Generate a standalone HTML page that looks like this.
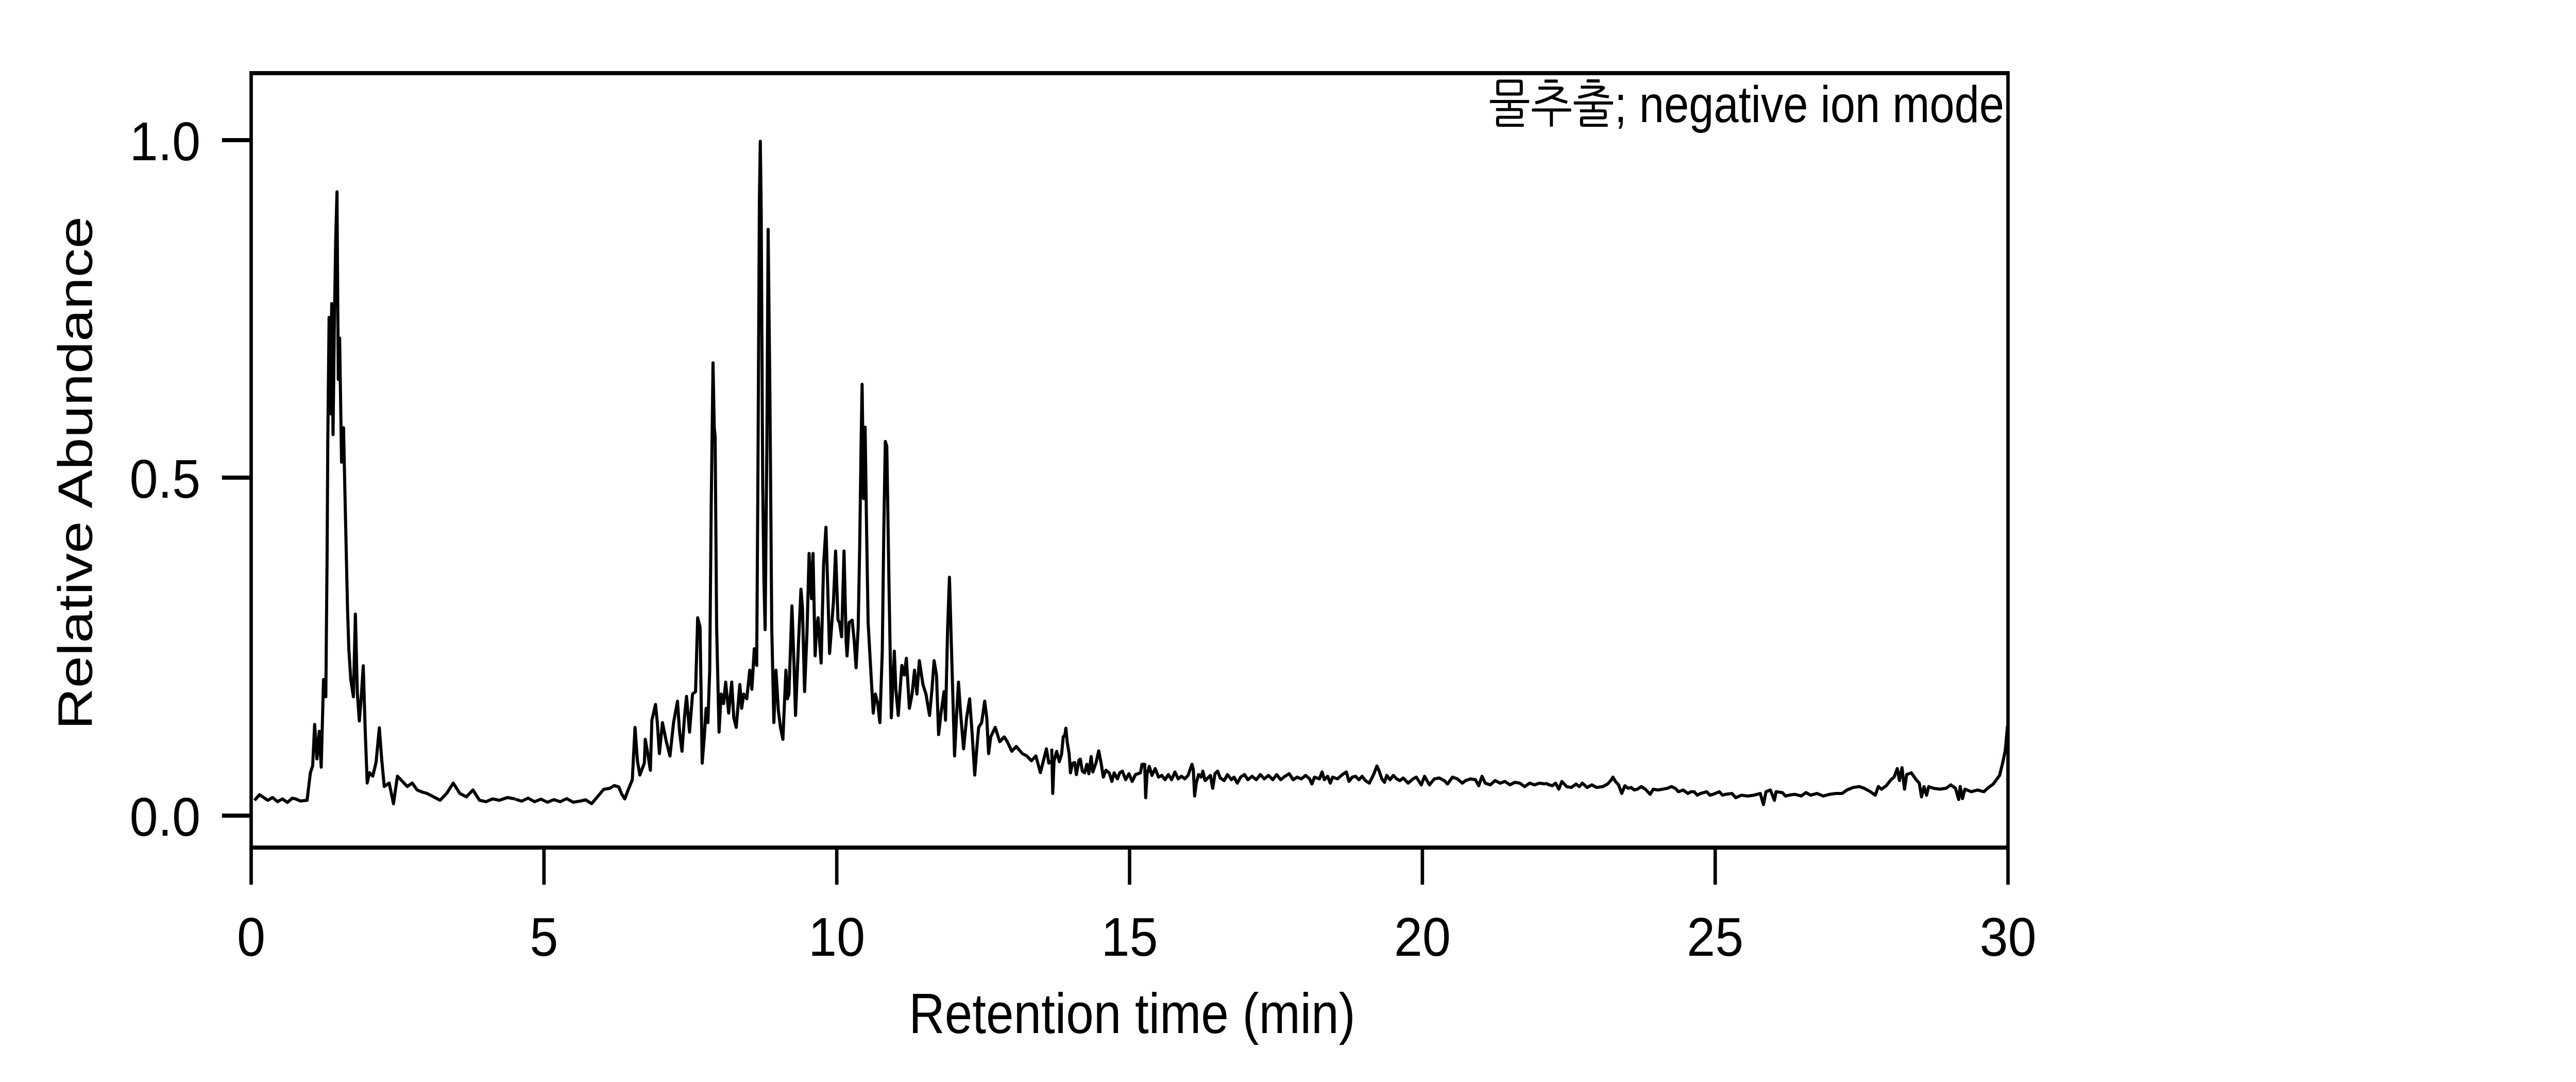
<!DOCTYPE html>
<html><head><meta charset="utf-8"><style>html,body{margin:0;padding:0;background:#fff;width:100%;height:100%;overflow:hidden}svg{display:block;width:100vw;height:100vh}</style></head>
<body>
<svg viewBox="0 0 6000 2100" preserveAspectRatio="none" xmlns="http://www.w3.org/2000/svg">
<defs><clipPath id="c"><rect x="585" y="142" width="4092" height="1503"/></clipPath></defs>
<rect width="6000" height="2100" fill="#fff"/>
<g fill="none" stroke="#000" stroke-width="6" stroke-linejoin="round" clip-path="url(#c)">
<polyline vector-effect="non-scaling-stroke" transform="scale(0.765,1.339)" points="775,1160 790,1152 800,1155 815,1160 830,1156 845,1162 860,1158 875,1163 890,1157 900,1158 915,1161 935,1160 945,1120 952,1110 958,1050 965,1100 972,1060 978,1112 985,985 992,1010 996,800 998,640 1002,460 1006,600 1010,440 1014,630 1018,470 1022,350 1026,278 1030,550 1034,490 1040,670 1046,620 1050,710 1058,880 1062,940 1068,985 1076,1010 1082,890 1088,1005 1094,1045 1100,1010 1106,965 1112,1060 1118,1135 1125,1120 1135,1125 1145,1105 1155,1055 1162,1100 1170,1140 1185,1135 1198,1165 1210,1125 1220,1130 1240,1140 1255,1135 1270,1145 1285,1148 1300,1150 1320,1155 1340,1160 1360,1150 1380,1135 1400,1150 1420,1155 1440,1145 1460,1160 1480,1162 1500,1158 1520,1160 1545,1156 1568,1158"/>
<polyline points="1200,1551 1215,1555 1230,1549 1245,1556 1260,1551 1275,1557 1290,1552 1305,1556 1320,1550 1335,1557 1350,1555"/>
<polyline vector-effect="non-scaling-stroke" transform="translate(1350,200) scale(0.7015,0.925)" points="0,1465 20,1462 40,1470 60,1455 80,1440 100,1438 115,1432 130,1435 140,1450 150,1460 162,1440 175,1420 184,1310 192,1380 200,1410 215,1385 218,1335 225,1360 235,1400 240,1295 252,1262 258,1300 265,1365 275,1300 288,1340 300,1370 312,1300 325,1255 332,1320 340,1360 348,1290 355,1245 365,1320 375,1240 385,1235 392,1080 400,1100 407,1385 414,1330 420,1270 426,1300 432,1190 437,845 443,545 447,680 450,700 455,1100 463,1320 470,1240 478,1260 485,1215 495,1280 505,1215 512,1290 520,1310 532,1220 538,1270 545,1240 555,1250 565,1190 572,1230 580,1145 588,1180 592,790 597,200 600,80 603,230 608,800 612,1000 616,1105 622,700 626,265 632,620 638,1100 645,1300 652,1190 660,1275 667,1310 675,1335 685,1190 690,1250 695,1240 705,1055 712,1180 717,1285 727,1130 735,1020 740,1060 747,1235 755,1110 762,945 770,1040 775,945 782,1160 787,1100 792,1080 797,1130 802,1175 810,970 818,890 824,1020 830,1155 843,1045 850,940 858,1085 863,1090 870,1120 878,940 885,1130 888,1160 895,1090 905,1085 912,1130 918,1185 925,1100 930,930 935,700 938,590 943,830 948,680 953,900 958,1090 965,1170 975,1280 982,1240 990,1260 997,1300 1005,1150 1010,900 1015,710 1020,720 1027,1000 1035,1290 1045,1150 1050,1230 1058,1285 1070,1180 1078,1200 1085,1165 1095,1270 1104,1240 1112,1190 1120,1240 1128,1170 1140,1220 1150,1240 1162,1285 1170,1230 1177,1170 1185,1200 1192,1325 1200,1280 1210,1235 1215,1295 1222,1100 1228,995 1235,1150 1245,1370 1252,1280 1258,1215 1265,1280 1275,1355 1285,1290 1295,1250 1303,1320 1312,1410 1318,1360 1325,1310 1335,1300 1345,1255 1352,1290 1358,1365 1365,1330 1380,1310 1395,1340 1410,1330 1420,1340 1435,1360 1450,1350 1470,1365 1485,1370 1500,1380 1515,1370 1530,1405 1540,1380 1550,1355 1558,1385 1568,1380"/>
<polyline vector-effect="non-scaling-stroke" transform="translate(2400,1380) scale(0.765,0.3333)" points="65,220 68,480 72,290 80,235 88,295 95,250 100,150 105,140 108,100 112,180 118,250 122,360 128,305 135,300 140,370 148,285 152,280 158,350 165,360 172,310 178,365 185,265 190,355 200,300 208,232 215,300 222,385 230,345 240,360 248,410 255,360 265,395 272,360 280,350 290,400 300,365 310,410 320,370 335,360 340,310 348,310 351,505 355,370 362,322 370,375 380,335 390,385 400,375 410,400 420,370 430,400 440,355 450,395 460,380 470,395 480,375 492,310 496,340 500,495 505,420 512,370 520,385 525,350 532,405 540,390 548,375 555,450 562,365 570,350 578,390 590,405 600,370 612,400 620,385 630,420 640,385 652,370 662,400 675,380 688,400 700,370 712,395 725,375 738,400 750,370 762,400 775,380 788,365 800,400 812,385 825,395 838,375 850,395 857,425 865,385 880,395 888,355 895,400 905,380 913,420 920,385 935,395 950,370 962,355 970,410 980,385 990,380 1000,400 1010,380 1020,405 1032,420 1045,370 1055,320 1062,350 1070,395 1078,415 1085,375 1095,400 1105,375 1115,395 1125,405 1135,390 1150,420 1165,395 1175,385 1190,430 1200,380 1215,430 1230,395 1245,390 1260,405 1270,425 1285,385 1300,395 1315,420 1325,405 1340,395 1355,400 1365,435 1375,380 1385,420 1400,430 1415,405 1430,420 1445,410 1460,430 1475,415 1490,420 1505,440 1520,420 1535,430 1550,420 1568,425"/>
<polyline vector-effect="non-scaling-stroke" transform="translate(3550,1380) scale(0.7334,0.3333)" points="67,420 80,430 90,435 100,420 110,455 120,410 135,440 150,445 165,425 175,440 185,420 200,445 215,430 230,445 250,440 265,425 275,405 282,385 290,410 300,430 310,480 320,435 330,450 340,445 350,460 360,455 372,440 385,455 400,485 410,455 425,460 440,455 455,450 468,440 480,450 490,470 505,460 520,480 530,470 540,470 550,490 560,480 580,470 590,490 600,485 620,470 630,490 640,485 660,480 672,505 690,490 710,495 730,490 750,480 760,545 768,470 782,460 795,520 800,470 820,475 830,495 840,490 860,485 880,495 895,475 910,490 930,480 950,495 970,485 990,480 1010,480 1025,460 1045,445 1065,440 1080,450 1100,470 1115,490 1125,440 1135,455 1150,435 1165,400 1175,385 1185,335 1192,405 1200,330 1208,455 1215,370 1230,360 1245,400 1255,420 1262,500 1270,440 1278,490 1285,440 1300,450 1320,455 1340,450 1355,430 1370,450 1380,515 1385,440 1392,510 1400,455 1420,470 1440,460 1460,470 1475,445 1490,425 1500,400 1510,375 1520,300 1528,230 1535,90 1545,40"/>
</g>
<g stroke="#000" stroke-width="8" fill="none">
<rect x="585" y="142" width="4092" height="1503"/>
<line x1="585" y1="1645" x2="585" y2="1717"/>
<line x1="517" y1="272" x2="585" y2="272"/>
<line x1="517" y1="927" x2="585" y2="927"/>
<line x1="517" y1="1583" x2="585" y2="1583"/>
<line x1="1267" y1="1645" x2="1267" y2="1717"/>
<line x1="1949" y1="1645" x2="1949" y2="1717"/>
<line x1="2631" y1="1645" x2="2631" y2="1717"/>
<line x1="3313" y1="1645" x2="3313" y2="1717"/>
<line x1="3995" y1="1645" x2="3995" y2="1717"/>
<line x1="4677" y1="1645" x2="4677" y2="1717"/>
</g>
<g font-family="'Liberation Sans', 'NanumGothic', 'Noto Sans CJK KR', sans-serif" font-size="106" fill="#000">
<text transform="translate(467,311) scale(1.12,1)" text-anchor="end">1.0</text>
<text transform="translate(467,966) scale(1.12,1)" text-anchor="end">0.5</text>
<text transform="translate(467,1622) scale(1.12,1)" text-anchor="end">0.0</text>
<g text-anchor="middle">
<text transform="translate(585,1855) scale(1.12,1)">0</text>
<text transform="translate(1267,1855) scale(1.12,1)">5</text>
<text transform="translate(1949,1855) scale(1.12,1)">10</text>
<text transform="translate(2631,1855) scale(1.12,1)">15</text>
<text transform="translate(3313,1855) scale(1.12,1)">20</text>
<text transform="translate(3995,1855) scale(1.12,1)">25</text>
<text transform="translate(4677,1855) scale(1.12,1)">30</text>
</g>
<text transform="translate(2637,2005) scale(1.05,1)" text-anchor="middle" font-size="110">Retention time (min)</text>
<text transform="translate(214,918) rotate(-90)" text-anchor="middle" font-size="112">Relative Abundance</text>
<text transform="translate(4668,237) scale(1.04,1)" text-anchor="end" font-size="100">물추출; negative ion mode</text>
</g>
</svg>
</body></html>
